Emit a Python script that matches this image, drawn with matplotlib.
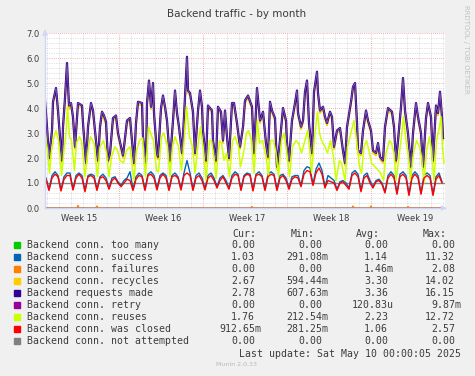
import numpy as np
import matplotlib
matplotlib.use('Agg')
import matplotlib.pyplot as plt
from matplotlib.patches import Rectangle

# Zeit in Stunden ab Beginn des Graphen (400 px = 800 h)
req_hours = [0, 4, 8, 14, 16, 22, 26, 30, 34, 36,
             40, 44, 48, 52, 56, 60, 64, 66, 74, 76,
             82, 86, 92, 96, 102, 106, 110, 114, 118, 122,
             126, 130, 136, 142, 146, 156, 164, 170, 174, 178,
             182, 186, 194, 196, 202, 204, 208, 212, 216, 218,
             224, 226, 232, 236, 240, 244, 250, 256, 260, 264,
             268, 274, 278, 284, 286, 290, 296, 300, 306, 310,
             314, 316, 322, 326, 334, 336, 342, 346, 352, 356,
             360, 364, 368, 374, 378, 384, 390, 396, 400, 406,
             414, 418, 424, 430, 436, 442, 446, 450, 454, 460,
             464, 470, 476, 482, 484, 488, 494, 500, 504, 506,
             512, 516, 520, 524, 528, 534, 538, 544, 546, 550,
             556, 560, 564, 570, 574, 578, 584, 590, 596, 600,
             604, 612, 616, 620, 624, 626, 632, 636, 642, 646,
             652, 656, 662, 666, 670, 676, 680, 686, 694, 698,
             702, 706, 712, 716, 720, 726, 732, 736, 742, 746,
             752, 756, 762, 766, 772, 776, 782, 786, 790, 794,
             796]
requests = [4.3, 3.25, 2.0, 3.1, 4.25, 4.8, 3.9, 2.85, 1.9, 3.25,
            4.4, 5.8, 4.1, 4.2, 3.65, 2.45, 3.6, 4.2, 4.1, 3.4,
            1.8, 3.25, 4.2, 3.9, 2.7, 1.9, 3.25, 3.85, 3.7, 3.45,
            1.9, 2.2, 3.6, 3.7, 3.0, 2.1, 3.5, 3.6, 2.7, 1.8,
            3.4, 4.25, 4.2, 2.85, 1.8, 4.2, 5.1, 4.05, 5.0, 3.8,
            2.2, 2.05, 4.0, 4.5, 4.05, 3.5, 1.9, 3.5, 4.7, 3.8,
            3.25, 2.2, 3.65, 6.05, 4.7, 4.6, 3.85, 2.2, 3.9, 4.7,
            4.05, 3.1, 1.9, 4.1, 3.9, 2.7, 1.9, 4.05, 3.85, 2.7,
            3.9, 2.85, 2.0, 4.2, 4.2, 3.4, 2.45, 3.25, 4.3, 4.5,
            4.05, 2.2, 4.8, 3.5, 3.85, 2.6, 2.05, 4.25, 3.9, 3.6,
            1.65, 2.7, 4.0, 3.5, 2.6, 1.9, 3.5, 4.2, 4.7, 3.8,
            3.25, 3.5, 4.65, 5.1, 3.4, 2.2, 4.65, 5.45, 4.6, 3.9,
            4.05, 3.65, 3.4, 3.85, 3.65, 2.45, 3.1, 3.2, 2.3, 1.8,
            3.25, 4.25, 4.85, 5.0, 3.4, 2.3, 2.2, 3.1, 3.9, 3.5,
            3.1, 2.3, 2.2, 2.6, 2.05, 1.9, 3.25, 4.0, 3.85, 3.25,
            1.9, 2.7, 4.05, 5.2, 3.9, 3.0, 1.65, 3.0, 4.2, 3.65,
            3.0, 1.65, 3.6, 4.2, 3.65, 1.9, 4.1, 3.8, 4.65, 3.65,
            2.8]
recycles = [4.2, 3.15, 1.9, 3.0, 4.15, 4.7, 3.8, 2.75, 1.8, 3.15,
            4.3, 5.6, 3.95, 4.1, 3.55, 2.35, 3.5, 4.1, 4.0, 3.3,
            1.7, 3.15, 4.1, 3.8, 2.6, 1.8, 3.15, 3.75, 3.55, 3.35,
            1.8, 2.1, 3.5, 3.6, 2.9, 2.0, 3.4, 3.5, 2.6, 1.7,
            3.3, 4.15, 4.1, 2.75, 1.7, 4.1, 5.0, 3.95, 4.85, 3.7,
            2.1, 1.95, 3.9, 4.4, 3.95, 3.4, 1.8, 3.4, 4.6, 3.7,
            3.15, 2.1, 3.55, 5.85, 4.6, 4.5, 3.75, 2.1, 3.8, 4.6,
            3.95, 3.0, 1.8, 4.0, 3.8, 2.6, 1.8, 3.95, 3.75, 2.6,
            3.8, 2.75, 1.9, 4.1, 4.1, 3.3, 2.35, 3.15, 4.2, 4.4,
            3.95, 2.1, 4.7, 3.4, 3.75, 2.5, 1.95, 4.15, 3.8, 3.5,
            1.55, 2.6, 3.9, 3.4, 2.5, 1.8, 3.4, 4.1, 4.6, 3.7,
            3.15, 3.4, 4.5, 5.0, 3.3, 2.1, 4.55, 5.3, 4.5, 3.8,
            3.95, 3.55, 3.3, 3.75, 3.55, 2.35, 3.0, 3.1, 2.2, 1.7,
            3.15, 4.15, 4.75, 4.9, 3.3, 2.2, 2.1, 3.0, 3.8, 3.4,
            3.0, 2.2, 2.1, 2.5, 1.95, 1.8, 3.15, 3.9, 3.75, 3.15,
            1.8, 2.6, 3.95, 5.05, 3.8, 2.9, 1.55, 2.9, 4.1, 3.55,
            2.9, 1.55, 3.5, 4.1, 3.55, 1.8, 4.0, 3.7, 4.55, 3.55,
            2.7]

reuse_hours = [0, 5, 9, 13, 18, 22, 27, 33, 38, 42,
               45, 49, 53, 59, 63, 69, 73, 80, 87, 91,
               98, 105, 110, 117, 123, 128, 133, 140, 145, 150,
               157, 163, 170, 178, 183, 189, 195, 201, 207, 211,
               217, 223, 227, 233, 238, 245, 250, 255, 260, 267,
               273, 278, 283, 289, 295, 300, 307, 311, 317, 322,
               329, 333, 338, 342, 349, 353, 358, 363, 369, 375,
               380, 387, 391, 398, 403, 407, 413, 418, 425, 429,
               435, 442, 447, 451, 457, 462, 467, 473, 478, 483,
               489, 495, 502, 507, 513, 520, 525, 530, 533, 540,
               545, 549, 553, 560, 565, 571, 577, 582, 589, 593,
               600, 605, 613, 618, 623, 629, 633, 638, 643, 649,
               653, 660, 667, 671, 677, 682, 689, 693, 698, 702,
               709, 713, 717, 722, 727, 731, 737, 743, 749, 753,
               758, 763, 769, 773, 778, 783, 789, 792, 795, 798]
reuses = [3.0, 2.3, 1.4, 2.3, 2.85, 3.1, 2.7, 1.3, 2.3, 3.0,
          4.05, 2.85, 2.7, 1.5, 2.6, 2.85, 2.7, 1.25, 2.45, 2.85,
          2.6, 1.25, 2.45, 2.7, 2.2, 1.25, 2.05, 2.45, 2.3, 1.9,
          1.8, 2.3, 2.45, 1.1, 2.3, 2.7, 2.8, 1.25, 3.25, 3.0,
          2.7, 1.5, 1.45, 2.85, 3.0, 2.45, 1.25, 2.45, 2.85, 2.45,
          1.5, 2.6, 4.05, 2.85, 2.45, 1.4, 2.7, 3.25, 2.3, 1.1,
          2.7, 2.7, 2.05, 1.2, 2.7, 2.6, 1.9, 2.2, 1.25, 2.7,
          2.85, 2.45, 1.65, 2.3, 3.0, 3.1, 2.7, 1.4, 3.5, 2.6,
          2.7, 2.05, 1.25, 2.7, 2.7, 2.2, 1.25, 2.7, 3.0, 2.3,
          1.25, 2.45, 2.7, 2.6, 2.2, 2.7, 3.1, 2.2, 1.4, 3.0,
          3.85, 3.0, 2.7, 2.45, 2.2, 2.7, 2.05, 1.1, 1.9, 1.8,
          1.1, 2.45, 3.1, 3.5, 2.7, 1.65, 1.4, 2.45, 2.7, 2.2,
          1.8, 1.65, 1.5, 1.4, 1.1, 2.2, 2.7, 2.6, 2.2, 1.1,
          2.2, 2.85, 3.65, 2.7, 2.05, 1.1, 2.2, 2.7, 2.45, 2.05,
          1.0, 2.3, 2.85, 2.3, 1.1, 2.7, 3.25, 3.65, 2.45, 1.8]

# success / was closed alle 6 h
conn_hours = list(range(2, 800, 6))
closed = [1.15, 0.7, 1.2, 1.35, 1.25, 0.68, 1.15, 1.3,
          1.3, 0.72, 1.2, 1.35, 1.2, 0.65, 1.25, 1.3,
          1.2, 0.7, 1.2, 1.25, 1.1, 0.75, 1.1, 1.2,
          1.0, 0.85, 1.0, 1.15, 1.1, 0.7, 1.15, 1.3,
          1.25, 0.7, 1.3, 1.35, 1.2, 0.72, 1.2, 1.35,
          1.2, 0.7, 1.25, 1.3, 1.2, 0.72, 1.3, 1.4,
          1.3, 0.7, 1.2, 1.3, 1.1, 0.72, 1.2, 1.3,
          1.1, 0.8, 1.1, 1.25, 1.0, 0.75, 1.2, 1.35,
          1.3, 0.7, 1.25, 1.35, 1.3, 0.68, 1.3, 1.35,
          1.25, 0.7, 1.25, 1.35, 1.3, 0.7, 1.2, 1.3,
          1.1, 0.75, 1.15, 1.25, 1.2, 0.85, 1.35, 1.5,
          1.45, 0.9, 1.4, 1.6, 1.35, 0.8, 1.1, 1.05,
          1.0, 0.7, 1.0, 1.05, 0.9, 0.75, 1.3, 1.4,
          1.25, 0.65, 1.2, 1.3, 1.0, 0.8, 1.05, 1.1,
          0.95, 0.6, 1.2, 1.35, 1.2, 0.55, 1.25, 1.35,
          1.2, 0.5, 1.2, 1.35, 1.2, 0.55, 1.2, 1.3,
          1.2, 0.5, 1.15, 1.3, 1.0]
success = [1.2, 0.75, 1.3, 1.45, 1.3, 0.72, 1.25, 1.4,
           1.4, 0.75, 1.3, 1.4, 1.3, 0.7, 1.3, 1.35,
           1.3, 0.75, 1.25, 1.35, 1.2, 0.8, 1.2, 1.25,
           1.05, 0.9, 1.1, 1.2, 1.45, 0.75, 1.25, 1.4,
           1.3, 0.75, 1.35, 1.45, 1.3, 0.78, 1.3, 1.4,
           1.3, 0.75, 1.3, 1.4, 1.25, 0.78, 1.4, 1.9,
           1.4, 0.75, 1.3, 1.4, 1.2, 0.78, 1.3, 1.4,
           1.2, 0.85, 1.2, 1.3, 1.1, 0.8, 1.3, 1.45,
           1.35, 0.75, 1.3, 1.4, 1.35, 0.72, 1.35, 1.45,
           1.3, 0.75, 1.35, 1.45, 1.35, 0.75, 1.3, 1.35,
           1.2, 0.8, 1.25, 1.3, 1.3, 0.9, 1.5, 1.65,
           1.6, 0.95, 1.55, 1.8, 1.5, 0.85, 1.3, 1.2,
           1.1, 0.75, 1.05, 1.1, 1.0, 0.8, 1.4, 1.5,
           1.35, 0.7, 1.3, 1.4, 1.1, 0.85, 1.1, 1.15,
           1.0, 0.65, 1.3, 1.45, 1.3, 0.6, 1.35, 1.45,
           1.3, 0.55, 1.3, 1.45, 1.3, 0.6, 1.3, 1.4,
           1.3, 0.55, 1.25, 1.4, 1.05]

fail_hours = [0, 64, 66, 68, 102, 104, 106, 412, 414, 416,
              614, 616, 618, 650, 652, 654, 724, 726, 728, 800]
failures = [0, 0, 0.1, 0, 0, 0.08, 0, 0, 0.06, 0,
            0, 0.08, 0, 0, 0.08, 0, 0, 0.06, 0, 0]
zero_hours = [0, 800]
zeros = [0, 0]
hrule = 1.0

week_lines = [148, 316, 484, 652]
week_label_pos = [68, 236, 404, 572, 740]
week_labels = ['Week 15', 'Week 16', 'Week 17', 'Week 18', 'Week 19']

legend_names = ['Backend conn. too many', 'Backend conn. success', 'Backend conn. failures',
                'Backend conn. recycles', 'Backend requests made', 'Backend conn. retry',
                'Backend conn. reuses', 'Backend conn. was closed', 'Backend conn. not attempted']
legend_colors = ['#00CC00', '#0066B3', '#FF8000', '#FFCC00', '#330099',
                 '#990099', '#CCFF00', '#FF0000', '#808080']
cur_vals = ['0.00', '1.03', '0.00', '2.67', '2.78', '0.00', '1.76', '912.65m', '0.00']
min_vals = ['0.00', '291.08m', '0.00', '594.44m', '607.63m', '0.00', '212.54m', '281.25m', '0.00']
avg_vals = ['0.00', '1.14', '1.46m', '3.30', '3.36', '120.83u', '2.23', '1.06', '0.00']
max_vals = ['0.00', '11.32', '2.08', '14.02', '16.15', '9.87m', '12.72', '2.57', '0.00']

W, H = 475, 376
txt = '#3c3c3c'
fig = plt.figure(figsize=(W / 100, H / 100), dpi=100, facecolor='#F0F0F0')
ax = fig.add_axes([45 / W, 1 - 208 / H, 400 / W, 175 / H])
ax.set_facecolor('white')
ax.set_xlim(0, 800)
ax.set_ylim(0, 7)

# Gitter
dot = (0, (1, 1.5))
for y in np.arange(0.2, 7.01, 0.2):
    if abs(y - round(y)) > 0.01:
        ax.axhline(y, color='#c8c8c8', lw=0.5, ls=dot, zorder=0)
for y in range(1, 8):
    ax.axhline(y, color='#f09a9a', lw=0.6, ls=dot, zorder=0)
for h in range(4, 800, 24):
    if h not in week_lines:
        ax.axvline(h, color='#c8c8c8', lw=0.5, ls=dot, zorder=0)
for h in week_lines:
    ax.axvline(h, color='#f09a9a', lw=0.6, ls=dot, zorder=0)

ax.axhline(hrule, color='#888888', lw=1.0, zorder=1)

lw = 1.0
ax.plot(zero_hours, zeros, color=legend_colors[0], lw=lw, zorder=2)
ax.plot(conn_hours, success, color=legend_colors[1], lw=lw, zorder=2)
ax.plot(fail_hours, failures, color=legend_colors[2], lw=lw, zorder=2)
ax.plot(req_hours, recycles, color=legend_colors[3], lw=1.3, zorder=2)
ax.plot(req_hours, requests, color=legend_colors[4], lw=1.6, zorder=2)
ax.plot(req_hours, requests, color='#8a6c98', lw=0.5, zorder=2)
ax.plot(zero_hours, zeros, color=legend_colors[5], lw=lw, zorder=2)
ax.plot(reuse_hours, reuses, color=legend_colors[6], lw=1.1, zorder=2)
ax.plot(conn_hours, closed, color=legend_colors[7], lw=lw, zorder=2)
ax.plot(zero_hours, zeros, color=legend_colors[8], lw=lw, zorder=2)

for s in ['top', 'right']:
    ax.spines[s].set_visible(False)
for s in ['left', 'bottom']:
    ax.spines[s].set_color('#CFD6F8')
    ax.spines[s].set_linewidth(1.0)
ax.annotate('', xy=(0, 1.035), xytext=(0, 0.99), xycoords='axes fraction',
            arrowprops=dict(arrowstyle='-|>', color='#CFD6F8', lw=1, mutation_scale=7))
ax.annotate('', xy=(1.012, 0), xytext=(0.99, 0), xycoords='axes fraction',
            arrowprops=dict(arrowstyle='-|>', color='#CFD6F8', lw=1, mutation_scale=7))

ax.set_yticks(range(8))
ax.set_yticklabels(['%.1f' % v for v in range(8)])
ax.set_xticks(week_label_pos)
ax.set_xticklabels(week_labels)
ax.tick_params(length=0, labelsize=6, colors=txt, pad=4)

fig.text(237 / W, 1 - 14 / H, 'Backend traffic - by month', ha='center', va='center',
         fontsize=7.5, color=txt)
fig.text(466 / W, 1 - 5 / H, 'RRDTOOL / TOBI OETIKER', rotation=270, ha='center', va='top',
         fontsize=5, color='#c0c0c0')

mono = dict(family='DejaVu Sans Mono', fontsize=7.1, color=txt, va='center')
for lab, xr in zip(['Cur:', 'Min:', 'Avg:', 'Max:'], [256, 315, 380, 447]):
    fig.text(xr / W, 1 - 234 / H, lab, ha='right', **mono)
edges = [261, 328, 394, 461]
for i, name in enumerate(legend_names):
    y = 245 + 12 * i
    fig.patches.append(Rectangle((14 / W, 1 - (y + 3) / H), 6 / W, 6 / H,
                                 transform=fig.transFigure, color=legend_colors[i]))
    fig.text(27 / W, 1 - y / H, name, ha='left', **mono)
    for col, xr in zip([cur_vals, min_vals, avg_vals, max_vals], edges):
        s = col[i]
        if not s[-1].isalpha():
            xr -= 6
        fig.text(xr / W, 1 - y / H, s, ha='right', **mono)
fig.text(461 / W, 1 - 354 / H, 'Last update: Sat May 10 00:00:05 2025', ha='right', **mono)
fig.text(237 / W, 1 - 364 / H, 'Munin 2.0.33', ha='center', va='center', fontsize=4.5,
         color='#b8b8b8')

fig.savefig('out.png', dpi=100, facecolor=fig.get_facecolor())
